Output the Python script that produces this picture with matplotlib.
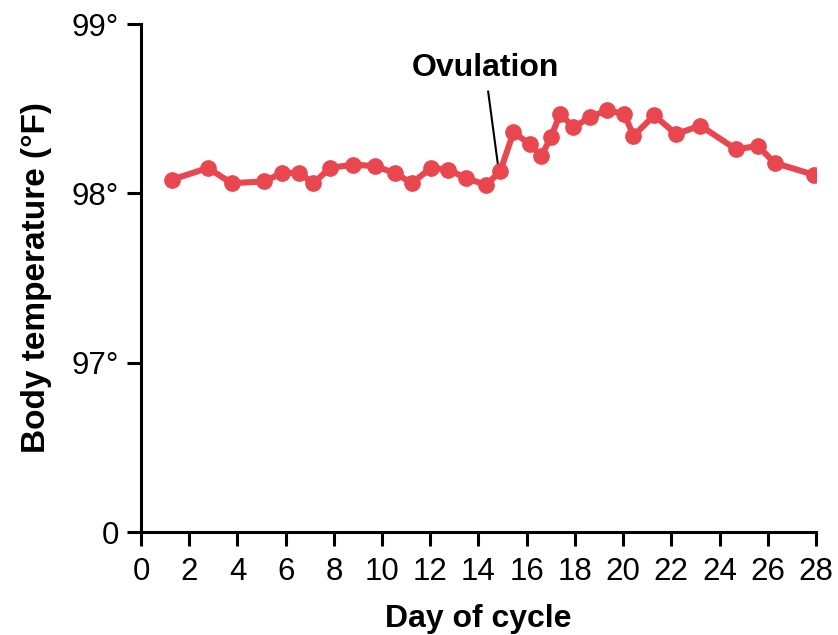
import matplotlib.pyplot as plt

plt.rcParams['font.family'] = ['Liberation Sans', 'DejaVu Sans']

# Readings (day of cycle, temperature in °F)
days = [1.27, 2.77, 3.76, 5.10, 5.84, 6.57, 7.15, 7.84, 8.81, 9.71,
        10.54, 11.23, 12.03, 12.75, 13.47, 14.32, 14.90, 15.45, 16.14, 16.60,
        17.00, 17.39, 17.94, 18.63, 19.32, 20.04, 20.43, 21.29, 22.20, 23.20,
        24.69, 25.59, 26.28, 27.90]
temps = [98.08, 98.15, 98.06, 98.07, 98.12, 98.12, 98.06, 98.15, 98.17, 98.16,
         98.12, 98.06, 98.15, 98.14, 98.09, 98.05, 98.13, 98.36, 98.29, 98.22,
         98.33, 98.47, 98.39, 98.45, 98.49, 98.47, 98.34, 98.46, 98.35, 98.40,
         98.26, 98.28, 98.18, 98.11]

x_ticks = list(range(0, 29, 2))
y_ticks = [96, 97, 98, 99]
y_labels = ['0', '97°', '98°', '99°']

fig = plt.figure(figsize=(8.38, 6.35), dpi=100)
ax = fig.add_axes([0.1683, 0.1622, 0.8054, 0.80])

ax.plot(days, temps, color='#e8474f', lw=4.4, marker='o', ms=11,
        solid_capstyle='round', zorder=3)

# ovulation pointer
ax.annotate('Ovulation', xy=(14.81, 98.165), xytext=(14.27, 98.74),
            ha='center', va='center', fontsize=23, fontweight='bold',
            arrowprops=dict(arrowstyle='-', color='black', lw=1.5,
                            shrinkA=4, shrinkB=0), zorder=2)

ax.set_xlim(0, 28)
ax.set_ylim(96, 99)
ax.set_xticks(x_ticks)
ax.set_yticks(y_ticks)
ax.set_yticklabels(y_labels)

for s in ['top', 'right']:
    ax.spines[s].set_visible(False)
for s in ['left', 'bottom']:
    ax.spines[s].set_linewidth(2.2)

ax.tick_params(axis='both', width=2.2, length=10, labelsize=22.5)
ax.tick_params(axis='x', pad=8)
ax.tick_params(axis='y', pad=6)

ax.set_xlabel('Day of cycle', fontsize=23, fontweight='bold', labelpad=12)
ax.set_ylabel('Body temperature (°F)', fontsize=24, fontweight='bold', labelpad=14)

fig.savefig('out.png', dpi=100)
